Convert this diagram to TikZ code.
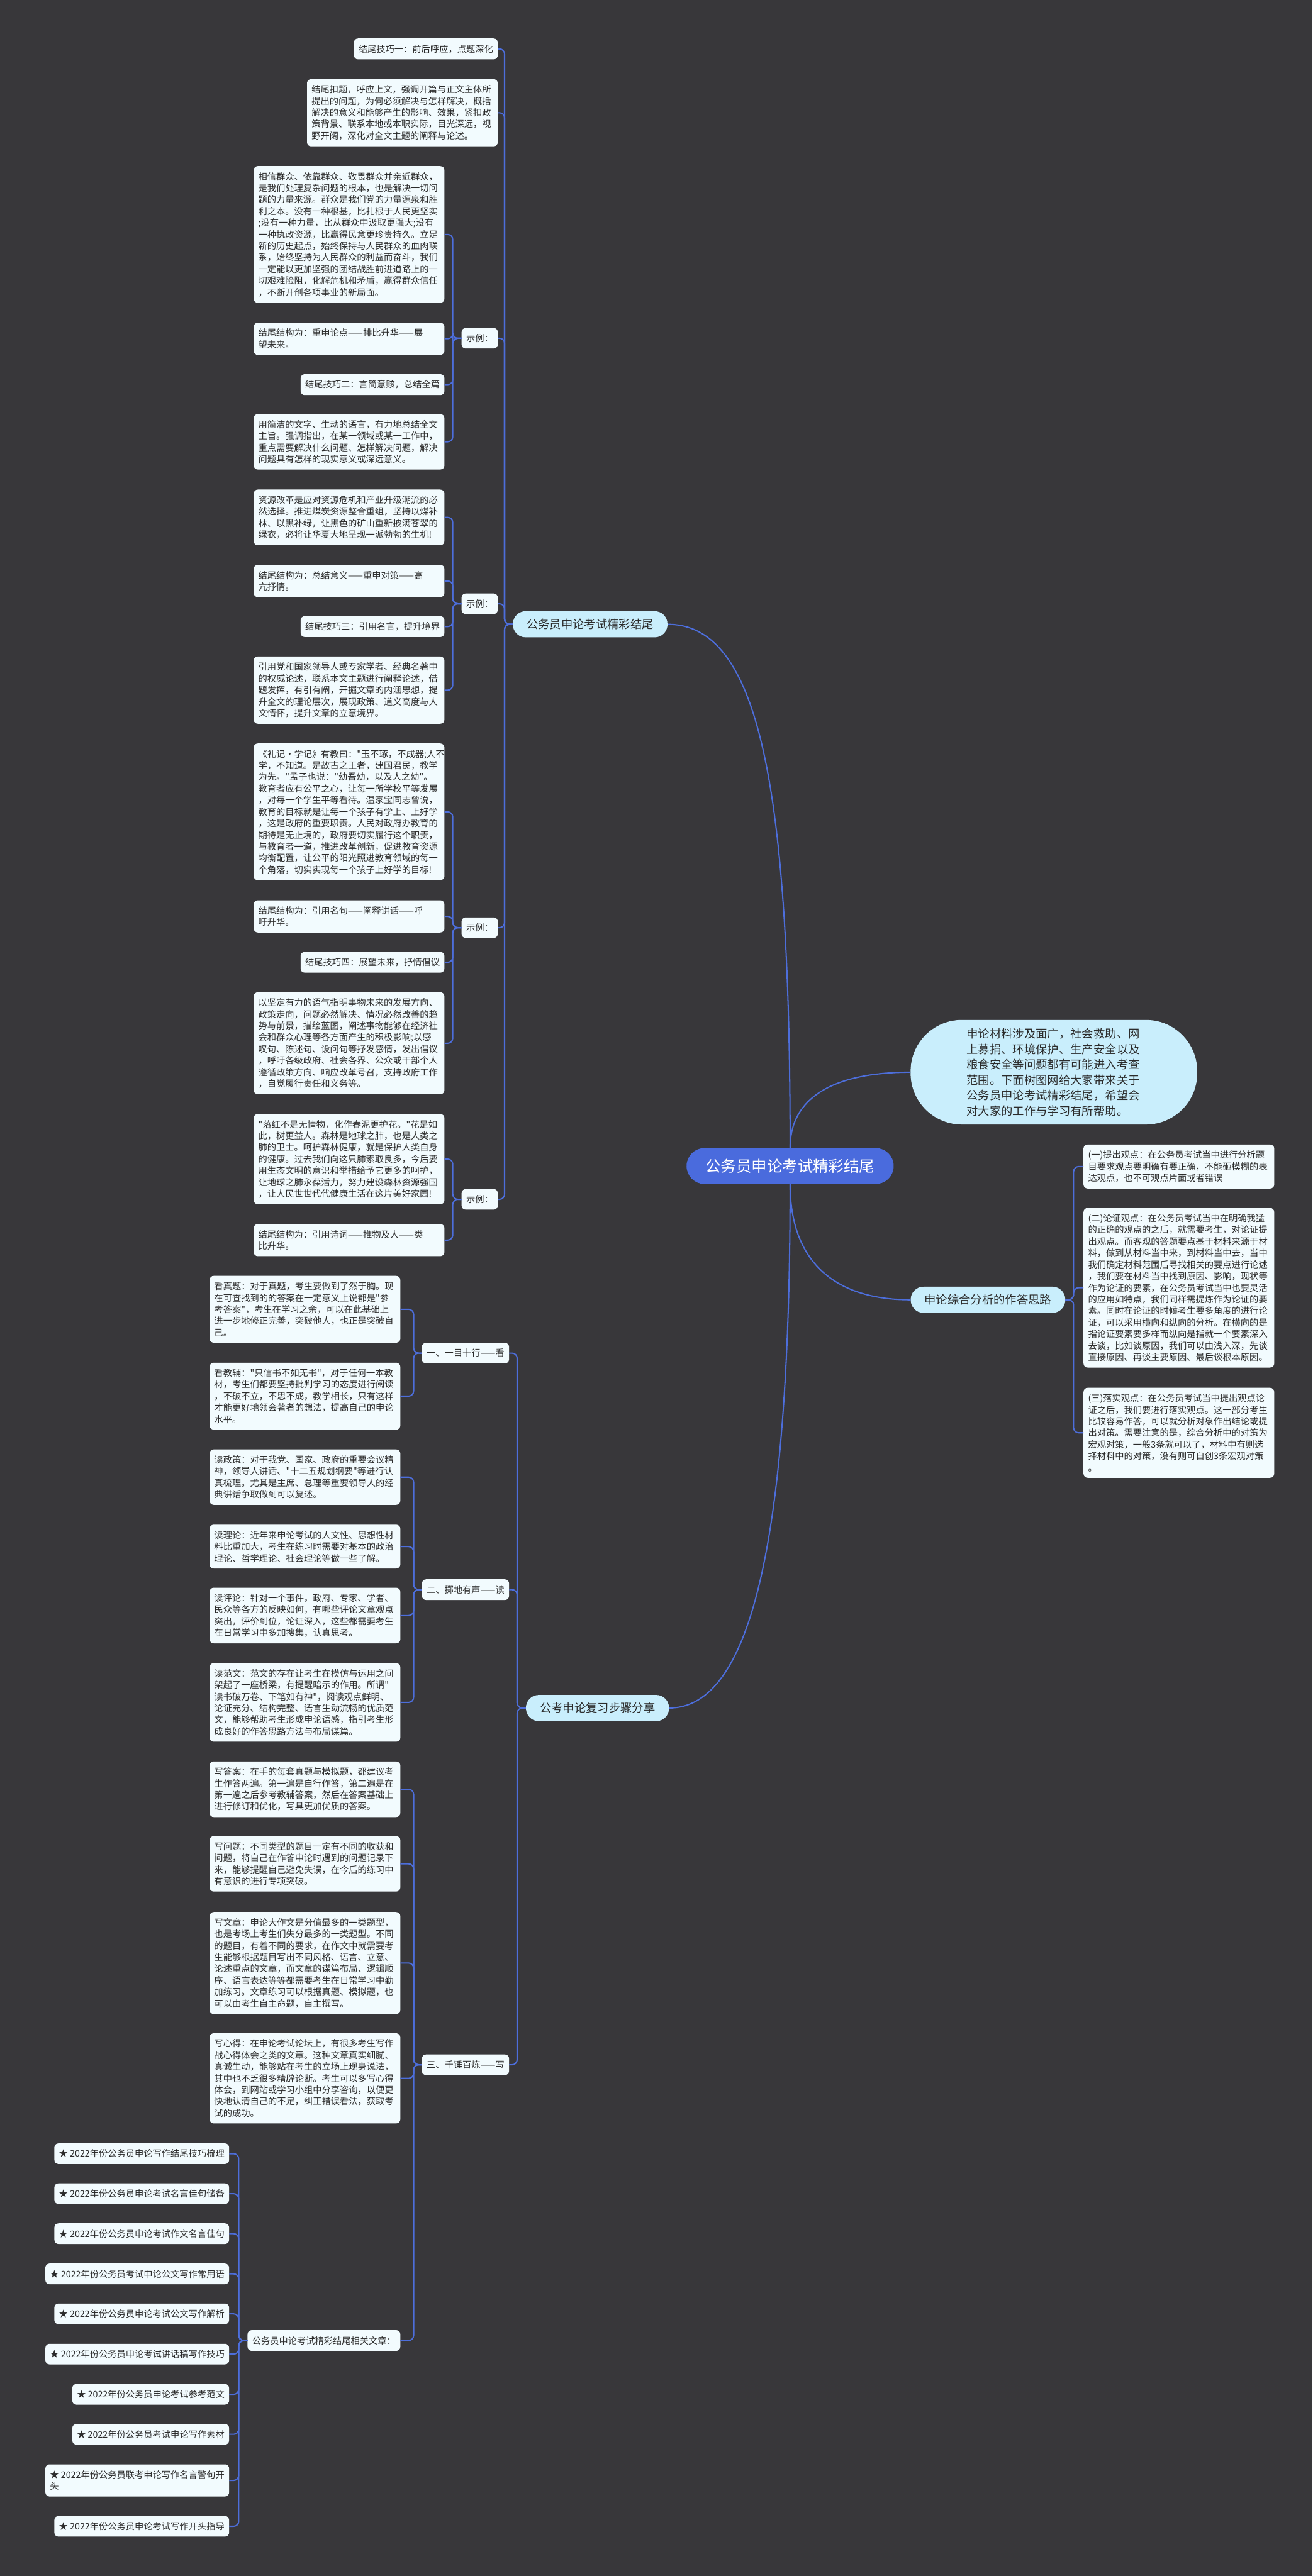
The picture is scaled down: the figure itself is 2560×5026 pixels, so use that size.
\documentclass[tikz,border=0pt]{standalone}
\usepackage{fontspec}
\setmainfont{Noto Sans CJK SC}
\newfontfamily\cjkface{Noto Sans CJK SC}
\usepackage{tikz}

\definecolor{bgdark}{HTML}{38373A}
\definecolor{leafbg}{HTML}{F2FBFE}
\definecolor{branchbg}{HTML}{C9EEFC}
\definecolor{rootblue}{HTML}{4A6BDD}
\definecolor{linkblue}{HTML}{4D6EDB}
\definecolor{inktext}{HTML}{2B2B2B}

\newcommand{\leaffont}{\cjkface\fontsize{17.5pt}{22.6pt}\selectfont}
\newcommand{\branchfont}{\cjkface\fontsize{22.5pt}{28pt}\selectfont}
\newcommand{\introfont}{\cjkface\fontsize{22.5pt}{30pt}\selectfont}
\newcommand{\rootfont}{\cjkface\fontsize{30pt}{36pt}\selectfont}

\tikzset{
    leaf/.style={fill=leafbg, rounded corners=8pt, align=left, inner xsep=9pt, inner ysep=12pt, font=\leaffont, text=inktext},
    wideleaf/.style={leaf, text width=354pt},
    branch/.style={fill=branchbg, rounded corners=25pt, minimum height=51pt, inner xsep=27pt, font=\branchfont, text=inktext},
    introbox/.style={fill=branchbg, rounded corners=100pt, minimum width=559pt, minimum height=204pt, text width=340pt, align=left, font=\introfont, text=inktext},
    rootnode/.style={fill=rootblue, rounded corners=35pt, minimum height=70pt, inner xsep=37pt, font=\rootfont, text=white},
    link/.style={draw=linkblue, line width=2.5pt},
    elbow/.style={link, rounded corners=10pt}
}

\begin{document}
\begin{tikzpicture}[x=1pt, y=-1pt]

    \useasboundingbox (0,0) rectangle (2560,5026);
    \fill[bgdark] (0,0) rectangle (2560,5026);

    % centre and main branches
    \node[rootnode] (root) at (1541,2275) {公务员申论考试精彩结尾};
    \node[branch, anchor=east] (tips) at (1302,1218) {公务员申论考试精彩结尾};
    \node[introbox] (intro) at (2055.5,2092) {申论材料涉及面广，社会救助、网\\上募捐、环境保护、生产安全以及\\粮食安全等问题都有可能进入考查\\范围。下面树图网给大家带来关于\\公务员申论考试精彩结尾，希望会\\对大家的工作与学习有所帮助。};
    \node[branch, anchor=west] (analysis) at (1776,2536) {申论综合分析的作答思路};
    \node[branch, anchor=east] (review) at (1305,3332.5) {公考申论复习步骤分享};

    % ending tips
    \node[leaf, anchor=east] (tipA) at (971,95.5) {结尾技巧一：前后呼应，点题深化};
    \node[wideleaf, anchor=east] (tipB) at (971,220) {结尾扣题，呼应上文，强调开篇与正文主体所\\提出的问题，为何必须解决与怎样解决，概括\\解决的意义和能够产生的影响、效果，紧扣政\\策背景、联系本地或本职实际，目光深远，视\\野开阔，深化对全文主题的阐释与论述。};

    \node[leaf, anchor=east] (ex1) at (971,660) {示例：};
    \node[wideleaf, anchor=east] (ex1a) at (867,457.5) {相信群众、依靠群众、敬畏群众并亲近群众，\\是我们处理复杂问题的根本，也是解决一切问\\题的力量来源。群众是我们党的力量源泉和胜\\利之本。没有一种根基，比扎根于人民更坚实\\;没有一种力量，比从群众中汲取更强大;没有\\一种执政资源，比赢得民意更珍贵持久。立足\\新的历史起点，始终保持与人民群众的血肉联\\系，始终坚持为人民群众的利益而奋斗，我们\\一定能以更加坚强的团结战胜前进道路上的一\\切艰难险阻，化解危机和矛盾，赢得群众信任\\，不断开创各项事业的新局面。};
    \node[wideleaf, anchor=east] (ex1b) at (867,661) {结尾结构为：重申论点——排比升华——展\\望未来。};
    \node[leaf, anchor=east] (ex1c) at (867,750.5) {结尾技巧二：言简意赅，总结全篇};
    \node[wideleaf, anchor=east] (ex1d) at (867,862) {用简洁的文字、生动的语言，有力地总结全文\\主旨。强调指出，在某一领域或某一工作中，\\重点需要解决什么问题、怎样解决问题，解决\\问题具有怎样的现实意义或深远意义。};

    \node[leaf, anchor=east] (ex2) at (971,1178) {示例：};
    \node[wideleaf, anchor=east] (ex2a) at (867,1009.5) {资源改革是应对资源危机和产业升级潮流的必\\然选择。推进煤炭资源整合重组，坚持以煤补\\林、以黑补绿，让黑色的矿山重新披满苍翠的\\绿衣，必将让华夏大地呈现一派勃勃的生机!};
    \node[wideleaf, anchor=east] (ex2b) at (867,1133.5) {结尾结构为：总结意义——重申对策——高\\亢抒情。};
    \node[leaf, anchor=east] (ex2c) at (867,1222.5) {结尾技巧三：引用名言，提升境界};
    \node[wideleaf, anchor=east] (ex2d) at (867,1346.5) {引用党和国家领导人或专家学者、经典名著中\\的权威论述，联系本文主题进行阐释论述，借\\题发挥，有引有阐，开掘文章的内涵思想，提\\升全文的理论层次，展现政策、道义高度与人\\文情怀，提升文章的立意境界。};

    \node[leaf, anchor=east] (ex3) at (971,1810) {示例：};
    \node[wideleaf, anchor=east] (ex3a) at (867,1584) {《礼记·学记》有教曰："玉不琢，不成器;人不\\学，不知道。是故古之王者，建国君民，教学\\为先。"孟子也说："幼吾幼，以及人之幼"。\\教育者应有公平之心，让每一所学校平等发展\\，对每一个学生平等看待。温家宝同志曾说，\\教育的目标就是让每一个孩子有学上、上好学\\，这是政府的重要职责。人民对政府办教育的\\期待是无止境的，政府要切实履行这个职责，\\与教育者一道，推进改革创新，促进教育资源\\均衡配置，让公平的阳光照进教育领域的每一\\个角落，切实实现每一个孩子上好学的目标!};
    \node[wideleaf, anchor=east] (ex3b) at (867,1788) {结尾结构为：引用名句——阐释讲话——呼\\吁升华。};
    \node[leaf, anchor=east] (ex3c) at (867,1877.5) {结尾技巧四：展望未来，抒情倡议};
    \node[wideleaf, anchor=east] (ex3d) at (867,2035.5) {以坚定有力的语气指明事物未来的发展方向、\\政策走向，问题必然解决、情况必然改善的趋\\势与前景，描绘蓝图，阐述事物能够在经济社\\会和群众心理等各方面产生的积极影响;以感\\叹句、陈述句、设问句等抒发感情，发出倡议\\，呼吁各级政府、社会各界、公众或干部个人\\遵循政策方向、响应改革号召，支持政府工作\\，自觉履行责任和义务等。};

    \node[leaf, anchor=east] (ex4) at (971,2340) {示例：};
    \node[wideleaf, anchor=east] (ex4a) at (867,2261.5) {"落红不是无情物，化作春泥更护花。"花是如\\此，树更益人。森林是地球之肺，也是人类之\\肺的卫士。呵护森林健康，就是保护人类自身\\的健康。过去我们向这只肺索取良多，今后要\\用生态文明的意识和举措给予它更多的呵护，\\让地球之肺永葆活力，努力建设森林资源强国\\，让人民世世代代健康生活在这片美好家园!};
    \node[wideleaf, anchor=east] (ex4b) at (867,2419.5) {结尾结构为：引用诗词——推物及人——类\\比升华。};

    % analysis steps
    \node[wideleaf, anchor=west] (view1) at (2113,2276) {(一)提出观点：在公务员考试当中进行分析题\\目要求观点要明确有要正确，不能砸模糊的表\\达观点，也不可观点片面或者错误};
    \node[wideleaf, anchor=west] (view2) at (2113,2512.5) {(二)论证观点：在公务员考试当中在明确我猛\\的正确的观点的之后，就需要考生，对论证提\\出观点。而客观的答题要点基于材料来源于材\\料，做到从材料当中来，到材料当中去，当中\\我们确定材料范围后寻找相关的要点进行论述\\，我们要在材料当中找到原因、影响，现状等\\作为论证的要素，在公务员考试当中也要灵活\\的应用如特点，我们同样需提炼作为论证的要\\素。同时在论证的时候考生要多角度的进行论\\证，可以采用横向和纵向的分析。在横向的是\\指论证要素要多样而纵向是指就一个要素深入\\去谈，比如谈原因，我们可以由浅入深，先谈\\直接原因、再谈主要原因、最后谈根本原因。};
    \node[wideleaf, anchor=west] (view3) at (2113,2795.5) {(三)落实观点：在公务员考试当中提出观点论\\证之后，我们要进行落实观点。这一部分考生\\比较容易作答，可以就分析对象作出结论或提\\出对策。需要注意的是，综合分析中的对策为\\宏观对策，一般3条就可以了，材料中有则选\\择材料中的对策，没有则可自创3条宏观对策\\。};

    % review steps
    \node[leaf, anchor=east] (look) at (993,2640) {一、一目十行——看};
    \node[wideleaf, anchor=east] (look1) at (781,2554.5) {看真题：对于真题，考生要做到了然于胸。现\\在可查找到的的答案在一定意义上说都是"参\\考答案"，考生在学习之余，可以在此基础上\\进一步地修正完善，突破他人，也正是突破自\\己。};
    \node[wideleaf, anchor=east] (look2) at (781,2724) {看教辅："只信书不如无书"，对于任何一本教\\材，考生们都要坚持批判学习的态度进行阅读\\，不破不立，不思不成，教学相长，只有这样\\才能更好地领会著者的想法，提高自己的申论\\水平。};

    \node[leaf, anchor=east] (read) at (993,3101.5) {二、掷地有声——读};
    \node[wideleaf, anchor=east] (read1) at (781,2882) {读政策：对于我党、国家、政府的重要会议精\\神，领导人讲话、"十二五规划纲要"等进行认\\真梳理。尤其是主席、总理等重要领导人的经\\典讲话争取做到可以复述。};
    \node[wideleaf, anchor=east] (read2) at (781,3017.5) {读理论：近年来申论考试的人文性、思想性材\\料比重加大，考生在练习时需要对基本的政治\\理论、哲学理论、社会理论等做一些了解。};
    \node[wideleaf, anchor=east] (read3) at (781,3152) {读评论：针对一个事件，政府、专家、学者、\\民众等各方的反映如何，有哪些评论文章观点\\突出，评价到位，论证深入，这些都需要考生\\在日常学习中多加搜集，认真思考。};
    \node[wideleaf, anchor=east] (read4) at (781,3321.5) {读范文：范文的存在让考生在模仿与运用之间\\架起了一座桥梁，有提醒暗示的作用。所谓"\\读书破万卷、下笔如有神"，阅读观点鲜明、\\论证充分、结构完整、语言生动流畅的优质范\\文，能够帮助考生形成申论语感，指引考生形\\成良好的作答思路方法与布局谋篇。};

    \node[leaf, anchor=east] (write) at (993,4028.5) {三、千锤百炼——写};
    \node[wideleaf, anchor=east] (write1) at (781,3491) {写答案：在手的每套真题与模拟题，都建议考\\生作答两遍。第一遍是自行作答，第二遍是在\\第一遍之后参考教辅答案，然后在答案基础上\\进行修订和优化，写具更加优质的答案。};
    \node[wideleaf, anchor=east] (write2) at (781,3636.5) {写问题：不同类型的题目一定有不同的收获和\\问题，将自己在作答申论时遇到的问题记录下\\来，能够提醒自己避免失误，在今后的练习中\\有意识的进行专项突破。};
    \node[wideleaf, anchor=east] (write3) at (781,3830) {写文章：申论大作文是分值最多的一类题型，\\也是考场上考生们失分最多的一类题型。不同\\的题目，有着不同的要求，在作文中就需要考\\生能够根据题目写出不同风格、语言、立意、\\论述重点的文章，而文章的谋篇布局、逻辑顺\\序、语言表达等等都需要考生在日常学习中勤\\加练习。文章练习可以根据真题、模拟题，也\\可以由考生自主命题，自主撰写。};
    \node[wideleaf, anchor=east] (write4) at (781,4055) {写心得：在申论考试论坛上，有很多考生写作\\战心得体会之类的文章。这种文章真实细腻、\\真诚生动，能够站在考生的立场上现身说法，\\其中也不乏很多精辟论断。考生可以多写心得\\体会，到网站或学习小组中分享咨询，以便更\\快地认清自己的不足，纠正错误看法，获取考\\试的成功。};
    \node[leaf, anchor=east] (more) at (781,4566.5) {公务员申论考试精彩结尾相关文章：};

    % related articles
    \node[leaf, anchor=east] (art1) at (447,4202) {★ 2022年份公务员申论写作结尾技巧梳理};
    \node[leaf, anchor=east] (art2) at (447,4280) {★ 2022年份公务员申论考试名言佳句储备};
    \node[leaf, anchor=east] (art3) at (447,4358) {★ 2022年份公务员申论考试作文名言佳句};
    \node[leaf, anchor=east] (art4) at (447,4436.5) {★ 2022年份公务员考试申论公文写作常用语};
    \node[leaf, anchor=east] (art5) at (447,4514.5) {★ 2022年份公务员申论考试公文写作解析};
    \node[leaf, anchor=east] (art6) at (447,4593) {★ 2022年份公务员申论考试讲话稿写作技巧};
    \node[leaf, anchor=east] (art7) at (447,4671.5) {★ 2022年份公务员申论考试参考范文};
    \node[leaf, anchor=east] (art8) at (447,4749.5) {★ 2022年份公务员考试申论写作素材};
    \node[leaf, anchor=east] (art9) at (447,4839.5) {★ 2022年份公务员联考申论写作名言警句开\\头};
    \node[leaf, anchor=east] (art10) at (447,4929) {★ 2022年份公务员申论考试写作开头指导};

    % connectors from the centre
    \draw[link] (root.north) .. controls +(0,-700) and +(180,0) .. (tips.east);
    \draw[link] (root.north) .. controls +(0,-110) and +(-130,0) .. (intro.west);
    \draw[link] (root.south) .. controls +(0,150) and +(-150,0) .. (analysis.west);
    \draw[link] (root.south) .. controls +(0,650) and +(170,0) .. (review.east);

    \draw[elbow] (tips.west) -- ++(-16,0) |- (tipA.east);
    \draw[elbow] (tips.west) -- ++(-16,0) |- (tipB.east);
    \draw[elbow] (tips.west) -- ++(-16,0) |- (ex1.east);
    \draw[elbow] (tips.west) -- ++(-16,0) |- (ex2.east);
    \draw[elbow] (tips.west) -- ++(-16,0) |- (ex3.east);
    \draw[elbow] (tips.west) -- ++(-16,0) |- (ex4.east);

    \draw[elbow] (ex1.west) -- ++(-17,0) |- (ex1a.east);
    \draw[elbow] (ex1.west) -- ++(-17,0) |- (ex1b.east);
    \draw[elbow] (ex1.west) -- ++(-17,0) |- (ex1c.east);
    \draw[elbow] (ex1.west) -- ++(-17,0) |- (ex1d.east);
    \draw[elbow] (ex2.west) -- ++(-17,0) |- (ex2a.east);
    \draw[elbow] (ex2.west) -- ++(-17,0) |- (ex2b.east);
    \draw[elbow] (ex2.west) -- ++(-17,0) |- (ex2c.east);
    \draw[elbow] (ex2.west) -- ++(-17,0) |- (ex2d.east);
    \draw[elbow] (ex3.west) -- ++(-17,0) |- (ex3a.east);
    \draw[elbow] (ex3.west) -- ++(-17,0) |- (ex3b.east);
    \draw[elbow] (ex3.west) -- ++(-17,0) |- (ex3c.east);
    \draw[elbow] (ex3.west) -- ++(-17,0) |- (ex3d.east);
    \draw[elbow] (ex4.west) -- ++(-17,0) |- (ex4a.east);
    \draw[elbow] (ex4.west) -- ++(-17,0) |- (ex4b.east);

    \draw[elbow] (analysis.east) -- ++(16,0) |- (view1.west);
    \draw[elbow] (analysis.east) -- ++(16,0) |- (view2.west);
    \draw[elbow] (analysis.east) -- ++(16,0) |- (view3.west);

    \draw[elbow] (review.west) -- ++(-17,0) |- (look.east);
    \draw[elbow] (review.west) -- ++(-17,0) |- (read.east);
    \draw[elbow] (review.west) -- ++(-17,0) |- (write.east);

    \draw[elbow] (look.west) -- ++(-16,0) |- (look1.east);
    \draw[elbow] (look.west) -- ++(-16,0) |- (look2.east);
    \draw[elbow] (read.west) -- ++(-16,0) |- (read1.east);
    \draw[elbow] (read.west) -- ++(-16,0) |- (read2.east);
    \draw[elbow] (read.west) -- ++(-16,0) |- (read3.east);
    \draw[elbow] (read.west) -- ++(-16,0) |- (read4.east);
    \draw[elbow] (write.west) -- ++(-16,0) |- (write1.east);
    \draw[elbow] (write.west) -- ++(-16,0) |- (write2.east);
    \draw[elbow] (write.west) -- ++(-16,0) |- (write3.east);
    \draw[elbow] (write.west) -- ++(-16,0) |- (write4.east);
    \draw[elbow] (write.west) -- ++(-16,0) |- (more.east);

    \draw[elbow] (more.west) -- ++(-17,0) |- (art1.east);
    \draw[elbow] (more.west) -- ++(-17,0) |- (art2.east);
    \draw[elbow] (more.west) -- ++(-17,0) |- (art3.east);
    \draw[elbow] (more.west) -- ++(-17,0) |- (art4.east);
    \draw[elbow] (more.west) -- ++(-17,0) |- (art5.east);
    \draw[elbow] (more.west) -- ++(-17,0) |- (art6.east);
    \draw[elbow] (more.west) -- ++(-17,0) |- (art7.east);
    \draw[elbow] (more.west) -- ++(-17,0) |- (art8.east);
    \draw[elbow] (more.west) -- ++(-17,0) |- (art9.east);
    \draw[elbow] (more.west) -- ++(-17,0) |- (art10.east);

\end{tikzpicture}
\end{document}
